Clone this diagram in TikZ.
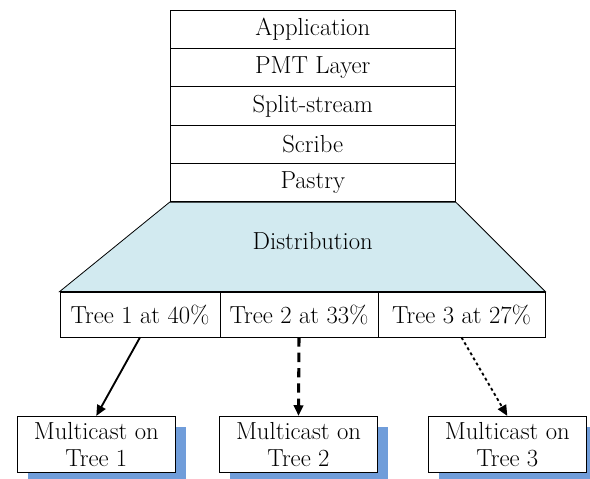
\documentclass[tikz,border=0pt]{standalone}
\usepackage{fontspec}
\setmainfont{Latin Modern Roman}
\usetikzlibrary{arrows.meta,shadows}
\definecolor{distfill}{RGB}{210,234,240}
\definecolor{shadowblue}{RGB}{112,157,218}
\begin{document}
\begin{tikzpicture}[x=0.75pt,y=-0.75pt,
  every node/.style={font=\fontsize{18.5}{20.5}\selectfont, inner sep=0pt},
  layer/.style={draw, line width=0.6pt, fill=white, minimum width=214pt, minimum height=28.7pt},
  tree/.style={draw, line width=0.6pt, fill=white, minimum height=33.75pt},
  mcbox/.style={draw, line width=0.6pt, fill=white, minimum width=118.5pt, minimum height=42pt, align=center,
    drop shadow={shadow xshift=7.8pt, shadow yshift=-8pt, fill=shadowblue, opacity=1}},
  conn/.style={line width=1.4pt, -{Triangle[length=8pt,width=7pt]}}
]
\useasboundingbox (0,0) rectangle (590,479);
\node[layer] (app) at (312.75,29.2) {Application};
\node[layer] (pmt) at (312.75,67.6) {PMT Layer};
\node[layer] (split) at (312.75,106) {Split-stream};
\node[layer] (scribe) at (312.75,144.4) {Scribe};
\node[layer] (pastry) at (312.75,182.6) {Pastry};

\node[tree, minimum width=120pt] (t1) at (140,314.5) {Tree 1 at 40\%};
\node[tree, minimum width=118.5pt] (t2) at (299,314.5) {Tree 2 at 33\%};
\node[tree, minimum width=125.25pt] (t3) at (461.5,314.5) {Tree 3 at 27\%};

\filldraw[fill=distfill, line width=0.6pt] (pastry.south west) -- (pastry.south east) -- (t3.north east) -- (t1.north west) -- cycle;
\node (dist) at (312.75,241) {Distribution};

\node[mcbox] (m1) at (96.3,444.3) {Multicast on\\Tree 1};
\node[mcbox] (m2) at (298.5,444.3) {Multicast on\\Tree 2};
\node[mcbox] (m3) at (507.3,444.3) {Multicast on\\Tree 3};

\draw[conn] (t1.south) -- (m1.north);
\draw[conn, line width=2.3pt, dash pattern=on 7pt off 4.5pt] (t2.south) -- (m2.north);
\draw[conn, dash pattern=on 2.2pt off 2.2pt] (t3.south) -- (m3.north);
\end{tikzpicture}
\end{document}
